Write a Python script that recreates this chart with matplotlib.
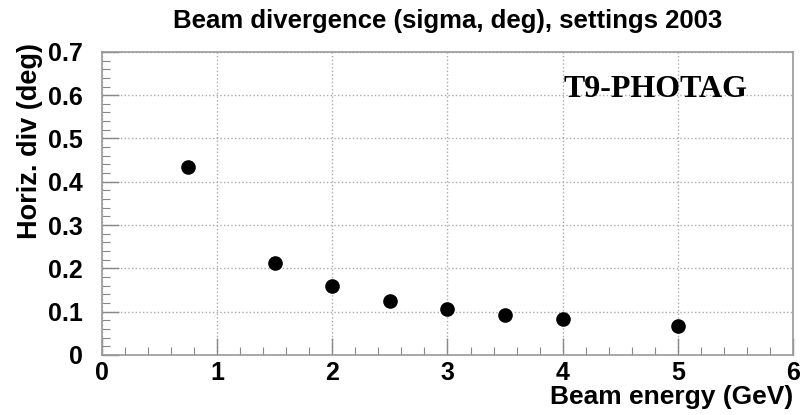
import matplotlib
matplotlib.use("Agg")
import matplotlib.pyplot as plt
from matplotlib.ticker import MultipleLocator

energy = [0.75, 1.5, 2.0, 2.5, 3.0, 3.5, 4.0, 5.0]
divergence = [0.434, 0.213, 0.159, 0.124, 0.107, 0.093, 0.082, 0.068]

title = "Beam divergence (sigma, deg), settings 2003"
xlabel = "Beam energy (GeV)"
ylabel = "Horiz. div (deg)"
tag = "T9-PHOTAG"

plt.rcParams['font.family'] = ['Liberation Sans', 'DejaVu Sans']

fig = plt.figure(figsize=(8.12, 4.15), dpi=100)
ax = fig.add_axes([0.1256, 0.1446, 0.851, 0.7304])

ax.plot(energy, divergence, 'o', color='black', markersize=9.5, zorder=3)

ax.set_xlim(0, 6)
ax.set_ylim(0, 0.7)
ax.xaxis.set_minor_locator(MultipleLocator(0.2))
ax.yaxis.set_minor_locator(MultipleLocator(0.02))
ax.set_xticks([0, 1, 2, 3, 4, 5, 6])
ax.set_xticklabels(['0', '1', '2', '3', '4', '5', '6'])
ax.set_yticks([0, 0.1, 0.2, 0.3, 0.4, 0.5, 0.6, 0.7])
ax.set_yticklabels(['0', '0.1', '0.2', '0.3', '0.4', '0.5', '0.6', '0.7'])

ax.tick_params(which='both', direction='in', colors='#888888', labelcolor='black',
               labelsize=18)
ax.tick_params(which='major', length=12, width=1)
ax.tick_params(which='minor', length=6, width=0.8)
ax.tick_params(axis='y', which='both', pad=14)
ax.tick_params(axis='x', which='both', pad=4)
for lab in ax.get_xticklabels() + ax.get_yticklabels():
    lab.set_fontweight('bold')

for s in ax.spines.values():
    s.set_color('#999999')
    s.set_linewidth(1.2)

ax.grid(True, which='major', linestyle=':', color='#aaaaaa', linewidth=1)

ax.set_title(title, fontsize=18.5, fontweight='bold', pad=17)
ax.set_xlabel(xlabel, fontsize=19, fontweight='bold', loc='right', labelpad=0)
ax.set_ylabel(ylabel, fontsize=19.5, fontweight='bold', loc='top')
ax.yaxis.set_label_coords(-0.085, 1.03)

ax.text(4.01, 0.596, tag, fontsize=23, fontweight='bold',
        family=['Liberation Serif', 'DejaVu Serif'], ha='left', va='baseline')

fig.savefig("out.png", dpi=100)
